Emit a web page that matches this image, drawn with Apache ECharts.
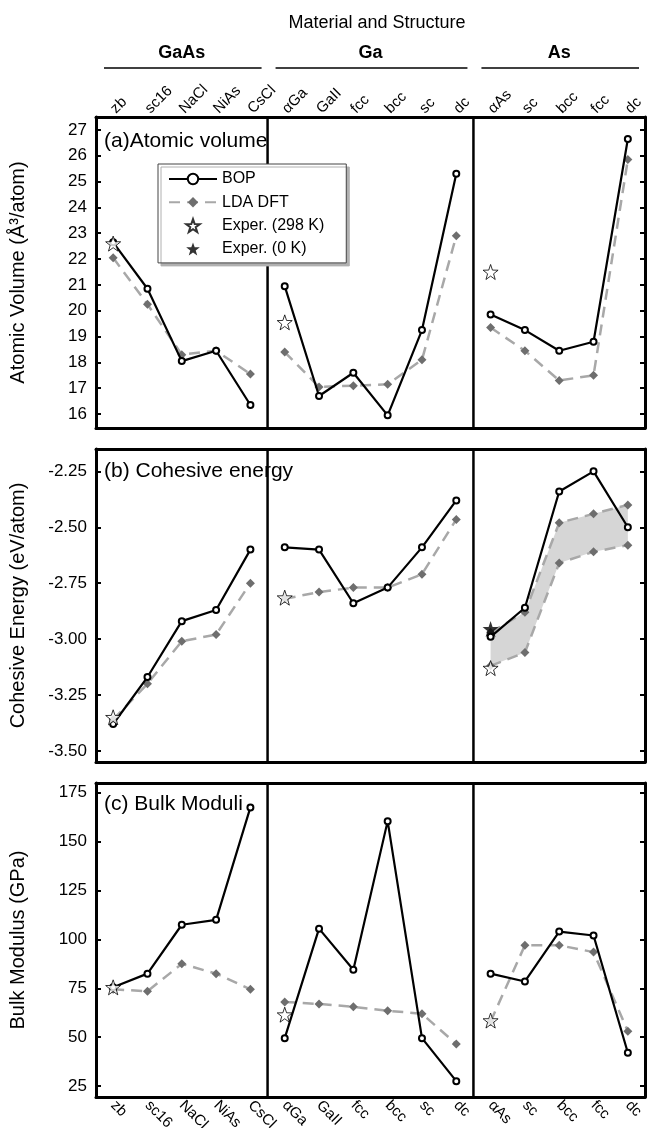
<!DOCTYPE html>
<html>
<head>
<meta charset="utf-8">
<script src="https://cdn.jsdelivr.net/npm/echarts@6/dist/echarts.min.js"></script>
<style>
  html, body { margin: 0; padding: 0; background: #fff; }
  #main { width: 647px; height: 1128px; }
</style>
</head>
<body>
<div id="main"></div>
<script>
// categories (structures) of each material
var gaasCats = ['zb', 'sc16', 'NaCl', 'NiAs', 'CsCl'];
var gaCats = ['αGa', 'GaII', 'fcc', 'bcc', 'sc', 'dc'];
var asCats = ['αAs', 'sc', 'bcc', 'fcc', 'dc'];
var groupNames = ['GaAs', 'Ga', 'As'];

// (a) atomic volume, A^3/atom
var volBopGaAs = [22.65, 20.85, 18.05, 18.45, 16.35];
var volLdaGaAs = [22.05, 20.25, 18.3, 18.45, 17.55];
var volBopGa = [20.95, 16.7, 17.6, 15.95, 19.25, 25.3];
var volLdaGa = [18.4, 17.05, 17.1, 17.15, 18.1, 22.9];
var volBopAs = [19.85, 19.25, 18.45, 18.8, 26.65];
var volLdaAs = [19.35, 18.45, 17.3, 17.5, 25.85];
var volExp298 = [22.6, 19.55, 21.5];   // at zb, αGa, αAs

// (b) cohesive energy, eV/atom
var cohBopGaAs = [-3.38, -3.17, -2.92, -2.87, -2.60];
var cohLdaGaAs = [-3.36, -3.20, -3.01, -2.98, -2.75];
var cohBopGa = [-2.59, -2.60, -2.84, -2.77, -2.59, -2.38];
var cohLdaGa = [-2.82, -2.79, -2.77, -2.77, -2.71, -2.465];
var cohBopAs = [-2.99, -2.86, -2.34, -2.25, -2.50];
var cohLdaAsUpper = [-2.97, -2.88, -2.48, -2.44, -2.40];
var cohLdaAsLower = [-3.12, -3.06, -2.66, -2.61, -2.58];
var cohExp298 = [-3.35, -2.815, -3.13];
var cohExp0As = -2.955;

// (c) bulk modulus, GPa
var bulkBopGaAs = [75.5, 82.5, 107.5, 110, 167.5];
var bulkLdaGaAs = [74.5, 73.5, 87.5, 82.5, 74.5];
var bulkBopGa = [49.5, 105.5, 84.5, 160.5, 49.5, 27.5];
var bulkLdaGa = [68, 67, 65.5, 63.5, 62, 46.5];
var bulkBopAs = [82.5, 78.5, 104, 102, 42];
var bulkLdaAs = [58, 97, 97, 93.5, 53];
var bulkExp298 = [75.5, 61.5, 58.5];

var chart = echarts.init(document.getElementById('main'));
var FONT = '"Liberation Sans", Arial, Helvetica, sans-serif';
var STAR = 'path://M0,-10L2.35,-3.24L9.51,-3.09L3.8,1.24L5.88,8.09L0,4L-5.88,8.09L-3.8,1.24L-9.51,-3.09L-2.35,-3.24Z';

var groups = [gaasCats, gaCats, asCats];
var plotLeft = 96, plotRight = 645;
var band = (plotRight - plotLeft) / 16;
var gridLeft = [plotLeft, plotLeft + 5 * band, plotLeft + 11 * band];
var gridW = [5 * band, 6 * band, 5 * band];
var panelTop = [117, 449, 783];
var panelH = [311, 313, 314];

var panels = [
  { min: 15.46, max: 27.5, step: 1, dec: 0, yName: 'Atomic Volume (Å³/atom)', label: '(a)Atomic volume',
    bop: [volBopGaAs, volBopGa, volBopAs], lda: [volLdaGaAs, volLdaGa, volLdaAs], exp: volExp298 },
  { min: -3.55, max: -2.15, step: 0.25, dec: 2, yName: 'Cohesive Energy (eV/atom)', label: '(b) Cohesive energy',
    bop: [cohBopGaAs, cohBopGa, cohBopAs], lda: [cohLdaGaAs, cohLdaGa, cohLdaAsUpper], exp: cohExp298 },
  { min: 19.4, max: 180, step: 25, dec: 0, yName: 'Bulk Modulus (GPa)', label: '(c) Bulk Moduli',
    bop: [bulkBopGaAs, bulkBopGa, bulkBopAs], lda: [bulkLdaGaAs, bulkLdaGa, bulkLdaAs], exp: bulkExp298 }
];

var bopStyle = {
  type: 'line', name: 'BOP', symbol: 'emptyCircle', symbolSize: 6, z: 4,
  itemStyle: { color: '#000', borderWidth: 1 },
  lineStyle: { color: '#000', width: 2.2 }
};
var ldaStyle = {
  type: 'line', name: 'LDA DFT', symbol: 'diamond', symbolSize: 9, z: 3,
  itemStyle: { color: '#6e6e6e' },
  lineStyle: { color: '#a8a8a8', width: 2.5, type: [11, 7] }
};

var option = {
  backgroundColor: '#fff',
  animation: false,
  grid: [], xAxis: [], yAxis: [], series: [], title: [], graphic: [],
  legend: {
    left: 158, top: 164, orient: 'vertical',
    data: ['BOP', 'LDA DFT', 'Exper. (298 K)', 'Exper. (0 K)'],
    selectedMode: false,
    backgroundColor: '#fff', borderColor: '#444', borderWidth: 1,
    shadowColor: '#b0b0b0', shadowOffsetX: 3, shadowOffsetY: 3, shadowBlur: 0,
    padding: [7, 22, 6, 10],
    itemWidth: 48, itemHeight: 13, itemGap: 7.3,
    textStyle: { fontSize: 16, color: '#000', fontFamily: FONT }
  }
};

option.title.push({
  text: 'Material and Structure', left: 377, top: 14, textAlign: 'center', padding: 0,
  textStyle: { fontSize: 18, fontWeight: 'normal', color: '#000', fontFamily: FONT }
});

panels.forEach(function (P, p) {
  option.title.push({
    text: P.label, left: 104, top: panelTop[p] + [14, 12, 11][p], padding: 0,
    textStyle: { fontSize: 21, fontWeight: 'normal', color: '#000', fontFamily: FONT }
  });

  groups.forEach(function (cats, g) {
    var gi = p * 3 + g;
    option.grid.push({
      left: gridLeft[g], top: panelTop[p], width: gridW[g], height: panelH[p],
      show: true, borderColor: '#000', borderWidth: 2, outerBoundsMode: 'none'
    });
    ['bottom', 'top'].forEach(function (pos) {
      var showLabel = (pos === 'bottom' && p === 2) || (pos === 'top' && p === 0);
      option.xAxis.push({
        type: 'category', data: cats, gridIndex: gi, position: pos, boundaryGap: true,
        axisLine: { lineStyle: { color: '#000', width: 3 } },
        axisTick: { inside: true, length: 5, alignWithLabel: true, lineStyle: { color: '#000', width: 2 } },
        axisLabel: { show: showLabel, rotate: -45, fontSize: 15, color: '#000', fontFamily: FONT, margin: 6, interval: 0 },
        splitLine: { show: false }
      });
    });
    option.yAxis.push({
      type: 'value', gridIndex: gi, min: P.min, max: P.max,
      minInterval: P.step, maxInterval: P.step,
      position: g === 2 ? 'right' : 'left', show: g !== 1,
      name: g === 0 ? P.yName : '', nameLocation: 'middle', nameGap: 68, nameRotate: 90,
      nameTextStyle: { fontSize: 20, color: '#000', fontFamily: FONT },
      axisLine: { show: true, lineStyle: { color: '#000', width: 3 } },
      axisTick: { show: true, inside: true, length: 5, lineStyle: { color: '#000', width: 2 } },
      axisLabel: {
        show: g === 0, fontSize: 17, color: '#000', fontFamily: FONT, margin: 9,
        formatter: function (v) {
          var k = v / P.step;
          if (Math.abs(k - Math.round(k)) > 1e-6) return '';
          return v.toFixed(P.dec);
        }
      },
      splitLine: { show: false }
    });

    var xi = gi * 2;
    // shaded band between the two LDA curves for As cohesive energy
    if (p === 1 && g === 2) {
      var diff = cohLdaAsUpper.map(function (u, i) { return u - cohLdaAsLower[i]; });
      option.series.push({
        type: 'line', name: 'bandBase', xAxisIndex: xi, yAxisIndex: gi, data: cohLdaAsLower,
        stack: 'asBand', stackStrategy: 'all', symbol: 'none', silent: true, z: 1,
        lineStyle: { opacity: 0 }
      });
      option.series.push({
        type: 'line', name: 'bandFill', xAxisIndex: xi, yAxisIndex: gi, data: diff,
        stack: 'asBand', stackStrategy: 'all', symbol: 'none', silent: true, z: 1,
        lineStyle: { opacity: 0 }, areaStyle: { color: '#d6d6d6', opacity: 1 }
      });
      option.series.push(Object.assign({}, ldaStyle, { xAxisIndex: xi, yAxisIndex: gi, data: cohLdaAsLower }));
    }
    option.series.push(Object.assign({}, ldaStyle, { xAxisIndex: xi, yAxisIndex: gi, data: P.lda[g] }));
    option.series.push(Object.assign({}, bopStyle, { xAxisIndex: xi, yAxisIndex: gi, data: P.bop[g] }));
    option.series.push({
      type: 'scatter', name: 'Exper. (298 K)', xAxisIndex: xi, yAxisIndex: gi,
      data: [[0, P.exp[g]]], symbol: STAR, symbolSize: 15, z: 6,
      itemStyle: { color: '#fff', borderColor: '#000', borderWidth: 1 }
    });
    if (p === 1 && g === 2) {
      option.series.push({
        type: 'scatter', name: 'Exper. (0 K)', xAxisIndex: xi, yAxisIndex: gi,
        data: [[0, cohExp0As]], symbol: STAR, symbolSize: 16, z: 7,
        itemStyle: { color: '#000' }
      });
    }
  });
});

// material group headers with underlines
groupNames.forEach(function (name, g) {
  option.title.push({
    text: name, left: gridLeft[g] + gridW[g] / 2, top: 44, textAlign: 'center', padding: 0,
    textStyle: { fontSize: 18, fontWeight: 'bold', color: '#000', fontFamily: FONT }
  });
  option.graphic.push({
    type: 'line', silent: true,
    shape: { x1: gridLeft[g] + 8, y1: 68, x2: gridLeft[g] + gridW[g] - 6, y2: 68 },
    style: { stroke: '#000', lineWidth: 1.5 }
  });
});

chart.setOption(option);
</script>
</body>
</html>
